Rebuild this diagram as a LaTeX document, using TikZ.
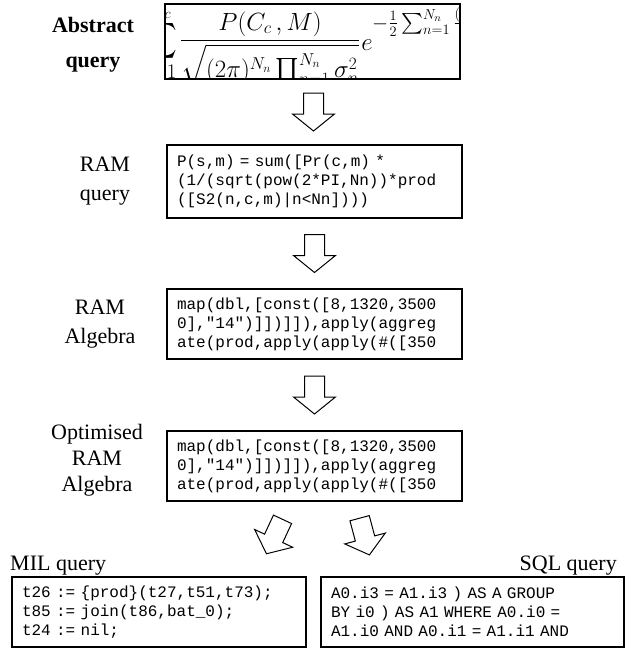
\documentclass[tikz,border=0pt]{standalone}
\usepackage{exscale}
\usepackage{fontspec}
\setmainfont{Liberation Serif}
\setmonofont{Liberation Mono}[WordSpace={1,0,0}]
\usetikzlibrary{calc}
\begin{document}
\begin{tikzpicture}[x=1pt,y=-1pt,
  box/.style={draw, line width=1.1pt, minimum width=295pt, minimum height=70pt,
    inner xsep=10pt, inner ysep=0pt, text width=275pt, align=left,
    font=\fontsize{16}{19}\selectfont\ttfamily},
  lab/.style={font=\fontsize{22}{29}\selectfont, align=center},
  labbold/.style={font=\fontsize{22}{35}\selectfont\bfseries, align=center},
  mathbig/.style={font=\fontsize{25}{30}\selectfont, inner sep=0pt},
  pics/blockarrow/.style={code={
    \draw[line width=1pt, fill=white, line join=miter]
      (-10,-19) -- (-10,2) -- (-21,2) -- (0,19) -- (21,2) -- (10,2) -- (10,-19) -- cycle;}}
]
\useasboundingbox (0,0) rectangle (630,649);

% Abstract query
\node[box, minimum height=75pt] (abs) at (312.5,41.5) {};
\begin{scope}
  \clip (abs.north west) rectangle (abs.south east);
  \node[font=\fontsize{30}{36}\selectfont, inner sep=0pt, anchor=east] (fsum) at (178,40)
    {$\displaystyle\sum_{c=1}^{N_c}$};
  \node[mathbig, anchor=base] (ffrac) at (270,47)
    {$\displaystyle\frac{P(C_c\,,M)}{\sqrt{(2\pi)^{N_n}\prod\nolimits_{n=1}^{N_n}\sigma_n^2}}$};
  \node[mathbig, anchor=base] (fe) at (367,50) {$e$};
  \node[font=\fontsize{21}{24}\selectfont, inner sep=0pt, anchor=base west] (fexp) at (372,29)
    {$\textstyle -\frac{1}{2}\sum_{n=1}^{N_n}\frac{(x_{s,n}-\mu_{c,n})^2}{\sigma_n^2}$};
\end{scope}
\node[labbold] (labs) at (93,45) {Abstract\\query};

% RAM query
\node[box, minimum height=73pt] (ramq) at (314.5,181.5) {P(s,m) = sum([Pr(c,m) *\\(1/(sqrt(pow(2*PI,Nn))*prod\\([S2(n,c,m)|n<Nn])))};
\node[lab] (lramq) at (105,181.5) {RAM\\query};

% RAM Algebra
\node[box] (rama) at (314.5,324) {map(dbl,[const([8,1320,3500\\0],"14")]])]]),apply(aggreg\\ate(prod,apply(apply(\#([350};
\node[lab] (lrama) at (100,324) {RAM\\Algebra};

% Optimised RAM Algebra
\node[box] (opt) at (314.5,466) {map(dbl,[const([8,1320,3500\\0],"14")]])]]),apply(aggreg\\ate(prod,apply(apply(\#([350};
\node[lab, font=\fontsize{22}{26}\selectfont] (lopt) at (97,460) {Optimised\\RAM\\Algebra};

% MIL and SQL
\node[box, minimum width=294pt, text width=274pt] (mil) at (159,612)
  {t26 := \{prod\}(t27,t51,t73);\\t85 := join(t86,bat\_0);\\t24 := nil;};
\node[box, minimum width=303pt, text width=283pt] (sql) at (472.5,612)
  {A0.i3 = A1.i3 ) AS A GROUP\\BY i0 ) AS A1 WHERE A0.i0 =\\A1.i0 AND A0.i1 = A1.i1 AND};
\node[lab, anchor=base west, inner sep=0pt] (lmil) at (10,570) {MIL query};
\node[lab, anchor=base east, inner sep=0pt] (lsql) at (617,570) {SQL query};

% block arrows
\path ($(abs.south)!0.5!(ramq.north)$) pic {blockarrow};
\path ($(ramq.south)!0.5!(rama.north)$) pic {blockarrow};
\path ($(rama.south)!0.5!(opt.north)$) pic {blockarrow};
\path ($(opt.south)+(-40,35)$) pic[rotate=-25] {blockarrow};
\path ($(opt.south)+(50,35)$) pic[rotate=15] {blockarrow};
\end{tikzpicture}
\end{document}
